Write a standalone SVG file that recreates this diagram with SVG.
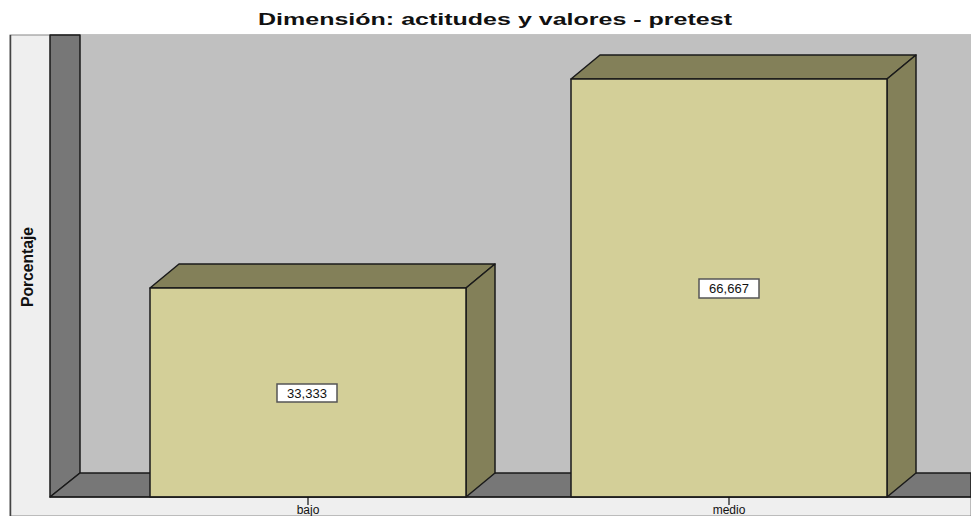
<svg xmlns="http://www.w3.org/2000/svg" width="971" height="516" viewBox="0 0 971 516">
<style>
.edge{stroke:#1a1a1a;stroke-width:1.5;stroke-linejoin:round}
.front{fill:#d3cf98}
.shade{fill:#838059}
.wall{fill:#777777}
.lbl{font-family:"Liberation Sans",Arial,sans-serif;font-size:12px;fill:#111}
.val{font-family:"Liberation Sans",Arial,sans-serif;font-size:13px;fill:#111}
.box{fill:#ffffff;stroke:#555;stroke-width:1.5}
</style>
<rect x="0" y="0" width="971" height="516" fill="#ffffff"/>
<text x="495" y="25" text-anchor="middle" font-family="Liberation Sans, Arial, sans-serif" font-weight="bold" font-size="16.5" fill="#111" textLength="474" lengthAdjust="spacingAndGlyphs">Dimensión: actitudes y valores - pretest</text>
<g id="frame">
<rect x="10" y="35" width="961" height="481" fill="#efefef" stroke="#888" stroke-width="1"/>
<line x1="10.5" y1="35" x2="10.5" y2="516" stroke="#444" stroke-width="1.5"/>
<rect x="80" y="35" width="891" height="438" fill="#c0c0c0"/>
<polygon class="wall edge" points="50,35 80,35 80,473 50,497"/>
<polygon class="wall edge" points="50,497 80,473 971,473 971,497"/>
<text transform="translate(33,267) rotate(-90)" text-anchor="middle" font-family="Liberation Sans Narrow, Liberation Sans, Arial, sans-serif" font-weight="bold" font-size="16" fill="#111" textLength="80" lengthAdjust="spacingAndGlyphs">Porcentaje</text>
</g>
<g id="bar-bajo">
<polygon class="shade edge" points="150,288 179,264 495,264 466,288"/>
<polygon class="shade edge" points="466,288 495,264 495,473 466,497"/>
<rect class="front edge" x="150" y="288" width="316" height="209"/>
<rect class="box" x="277" y="384" width="60" height="18"/>
<text class="val" x="307" y="397.5" text-anchor="middle">33,333</text>
</g>
<g id="bar-medio">
<polygon class="shade edge" points="571,79 600,55 916,55 887,79"/>
<polygon class="shade edge" points="887,79 916,55 916,473 887,497"/>
<rect class="front edge" x="571" y="79" width="316" height="418"/>
<rect class="box" x="699" y="279" width="60" height="19"/>
<text class="val" x="729" y="293" text-anchor="middle">66,667</text>
</g>
<g id="axis">
<line x1="50" y1="497" x2="971" y2="497" stroke="#1a1a1a" stroke-width="1"/>
<line x1="308" y1="497" x2="308" y2="505" stroke="#111" stroke-width="1.2"/>
<line x1="729" y1="497" x2="729" y2="505" stroke="#111" stroke-width="1.2"/>
<text class="lbl" x="308" y="514" text-anchor="middle">bajo</text>
<text class="lbl" x="729" y="514" text-anchor="middle">medio</text>
</g>
</svg>
